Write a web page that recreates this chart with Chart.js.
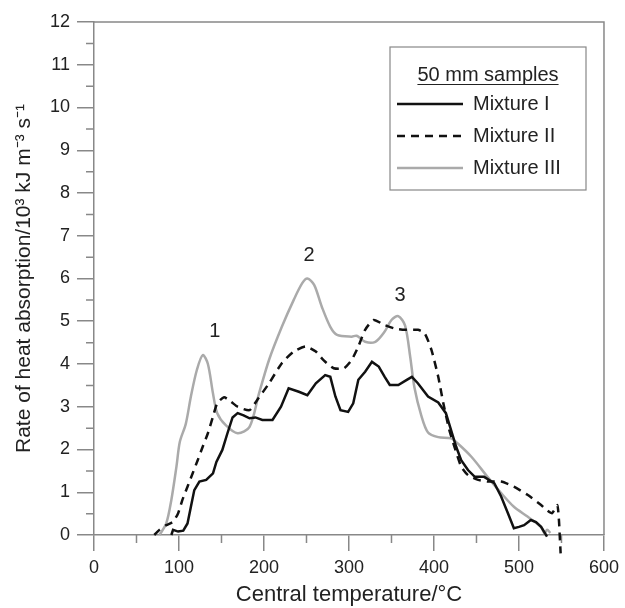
<!DOCTYPE html>
<html>
<head>
<meta charset="utf-8">
<script src="https://cdn.jsdelivr.net/npm/chart.js@4.4.1/dist/chart.umd.min.js"></script>
<style>
  body { margin: 0; background: #fff; }
  canvas { display: block; }
</style>
</head>
<body>
<canvas id="chart" width="625" height="608"></canvas>
<script>
// Mixture I (solid black)
const mix1X = [91, 93, 99, 105, 110, 114, 118, 124, 132, 140, 144, 151, 157, 163, 169, 176, 183, 190, 198, 210, 220, 229, 241, 251, 261, 272, 278, 284, 290, 299, 305, 311, 319, 327, 335, 342, 348, 358, 368, 374, 381, 393, 405, 414, 420, 426, 432, 440, 448, 459, 471, 479, 487, 494, 500, 506, 514, 520, 526, 533];
const mix1Y = [0, 0.12, 0.08, 0.1, 0.27, 0.66, 1.05, 1.25, 1.29, 1.44, 1.71, 1.99, 2.38, 2.75, 2.85, 2.8, 2.73, 2.75, 2.69, 2.69, 3.0, 3.43, 3.35, 3.27, 3.55, 3.74, 3.7, 3.24, 2.92, 2.88, 3.08, 3.63, 3.82, 4.05, 3.94, 3.7, 3.51, 3.51, 3.63, 3.7, 3.55, 3.24, 3.1, 2.85, 2.46, 2.07, 1.75, 1.52, 1.36, 1.36, 1.21, 0.9, 0.51, 0.16, 0.19, 0.23, 0.35, 0.3, 0.19, -0.04];

// Mixture II (dashed black)
const mix2X = [71, 77, 85, 93, 99, 104, 110, 116, 122, 128, 134, 140, 145, 153, 161, 169, 183, 192, 206, 221, 235, 249, 261, 270, 282, 294, 303, 311, 319, 329, 342, 354, 366, 381, 389, 397, 405, 411, 418, 424, 432, 440, 452, 463, 479, 494, 510, 526, 533, 539, 545, 547, 548, 549];
const mix2Y = [0, 0.12, 0.23, 0.31, 0.51, 0.82, 1.13, 1.44, 1.75, 2.07, 2.38, 2.77, 3.08, 3.22, 3.12, 3.0, 2.92, 3.16, 3.55, 4.02, 4.29, 4.41, 4.29, 4.09, 3.9, 3.9, 4.09, 4.41, 4.8, 5.03, 4.91, 4.83, 4.8, 4.8, 4.72, 4.33, 3.7, 3.08, 2.46, 2.07, 1.6, 1.4, 1.29, 1.25, 1.25, 1.13, 0.94, 0.7, 0.58, 0.51, 0.7, 0.35, -0.04, -0.43];

// Mixture III (grey)
const mix3X = [77, 85, 91, 97, 101, 108, 114, 121, 128, 134, 140, 145, 155, 169, 183, 194, 206, 221, 235, 245, 251, 259, 268, 278, 286, 303, 309, 319, 331, 342, 350, 358, 366, 372, 377, 385, 393, 405, 420, 428, 444, 463, 479, 494, 510, 526, 530, 533, 537];
const mix3Y = [0, 0.27, 0.82, 1.6, 2.18, 2.6, 3.24, 3.86, 4.21, 4.0, 3.31, 2.85, 2.57, 2.38, 2.53, 3.3, 4.1, 4.87, 5.5, 5.89, 6.0, 5.85, 5.34, 4.87, 4.68, 4.64, 4.66, 4.52, 4.52, 4.76, 5.03, 5.12, 4.9, 4.17, 3.45, 2.8, 2.4, 2.29, 2.26, 2.14, 1.83, 1.36, 0.98, 0.66, 0.43, 0.19, 0.04, 0.12, 0.05];

// Axis ticks
const xTicks = [0, 100, 200, 300, 400, 500, 600];
const xMinor = [50, 150, 250, 350, 450, 550];
const yTicks = [0, 1, 2, 3, 4, 5, 6, 7, 8, 9, 10, 11, 12];
const yMinor = [0.5, 1.5, 2.5, 3.5, 4.5, 5.5, 6.5, 7.5, 8.5, 9.5, 10.5, 11.5];

// Peak labels
const peakNames = ['1', '2', '3'];
const peakX = [142, 253, 360];
const peakY = [4.77, 6.55, 5.61];

const FONT = "'Liberation Sans', Arial, sans-serif";
const AXIS = '#888';
const pts = (xs, ys) => xs.map((x, i) => ({ x: x, y: ys[i] }));

// frame, minor ticks, peak numbers
const decorPlugin = {
    id: 'decor',
    beforeDatasetsDraw(chart) {
        const { ctx, chartArea: a, scales: { x, y } } = chart;
        ctx.save();
        ctx.strokeStyle = AXIS;
        ctx.lineWidth = 1.5;
        ctx.beginPath();
        ctx.moveTo(a.left, a.top); ctx.lineTo(a.right, a.top); ctx.lineTo(a.right, a.bottom);
        yMinor.forEach(v => { const p = y.getPixelForValue(v); ctx.moveTo(a.left - 8, p); ctx.lineTo(a.left, p); });
        xMinor.forEach(v => { const p = x.getPixelForValue(v); ctx.moveTo(p, a.bottom); ctx.lineTo(p, a.bottom + 8); });
        ctx.stroke();
        ctx.restore();
    },
    afterDatasetsDraw(chart) {
        const { ctx, scales: { x, y } } = chart;
        ctx.save();
        ctx.fillStyle = '#222';
        ctx.font = '20px ' + FONT;
        ctx.textAlign = 'center';
        ctx.textBaseline = 'middle';
        peakNames.forEach((t, i) => ctx.fillText(t, x.getPixelForValue(peakX[i]), y.getPixelForValue(peakY[i])));
        ctx.restore();
    }
};

// boxed legend with underlined heading
const boxLegend = {
    id: 'boxLegend',
    afterDraw(chart) {
        const ctx = chart.ctx;
        const box = { left: 390, top: 47, right: 586, bottom: 190 };
        ctx.save();
        ctx.fillStyle = '#fff';
        ctx.fillRect(box.left, box.top, box.right - box.left, box.bottom - box.top);
        ctx.strokeStyle = AXIS;
        ctx.lineWidth = 1.2;
        ctx.strokeRect(box.left, box.top, box.right - box.left, box.bottom - box.top);

        ctx.fillStyle = '#222';
        ctx.font = '20px ' + FONT;
        ctx.textBaseline = 'middle';
        ctx.textAlign = 'center';
        const head = '50 mm samples';
        const cx = (box.left + box.right) / 2;
        ctx.fillText(head, cx, 75);
        const w = ctx.measureText(head).width;
        ctx.strokeStyle = '#222';
        ctx.lineWidth = 1;
        ctx.beginPath(); ctx.moveTo(cx - w / 2, 84.5); ctx.lineTo(cx + w / 2, 84.5); ctx.stroke();

        ctx.textAlign = 'left';
        chart.data.datasets.forEach((ds, i) => {
            const yy = 104 + i * 32;
            ctx.strokeStyle = ds.borderColor;
            ctx.lineWidth = ds.borderWidth;
            ctx.setLineDash(ds.borderDash || []);
            ctx.beginPath(); ctx.moveTo(397, yy); ctx.lineTo(463, yy); ctx.stroke();
            ctx.setLineDash([]);
            ctx.fillStyle = '#222';
            ctx.fillText(ds.label, 473, yy);
        });
        ctx.restore();
    }
};

new Chart(document.getElementById('chart'), {
    type: 'line',
    data: {
        datasets: [
            { label: 'Mixture I', data: pts(mix1X, mix1Y), borderColor: '#111', borderWidth: 2.5, tension: 0, clip: false },
            { label: 'Mixture II', data: pts(mix2X, mix2Y), borderColor: '#111', borderWidth: 2.5, borderDash: [8, 6], tension: 0.2, clip: false },
            { label: 'Mixture III', data: pts(mix3X, mix3Y), borderColor: '#aaa', borderWidth: 2.5, tension: 0.3, clip: false }
        ]
    },
    options: {
        responsive: false,
        animation: false,
        devicePixelRatio: 1,
        layout: { padding: { top: 22, right: 18, left: 0, bottom: 0 } },
        elements: { point: { radius: 0 } },
        plugins: { legend: { display: false }, tooltip: { enabled: false } },
        scales: {
            x: {
                type: 'linear', min: 0, max: 600,
                afterBuildTicks: s => { s.ticks = xTicks.map(v => ({ value: v })); },
                afterFit: s => { s.height = 73; },
                ticks: { font: { family: FONT, size: 18 }, color: '#222', padding: 6, maxRotation: 0 },
                grid: { drawOnChartArea: false, tickLength: 16, color: AXIS, lineWidth: 1.5 },
                border: { color: AXIS, width: 1.5 },
                title: { display: true, text: 'Central temperature/°C', font: { family: FONT, size: 22 }, color: '#222', padding: { top: 0, bottom: 0 } }
            },
            y: {
                min: 0, max: 12,
                afterBuildTicks: s => { s.ticks = yTicks.map(v => ({ value: v })); },
                afterFit: s => { s.width = 94; },
                ticks: { font: { family: FONT, size: 18 }, color: '#222', padding: 7 },
                grid: { drawOnChartArea: false, tickLength: 17, color: AXIS, lineWidth: 1.5 },
                border: { color: AXIS, width: 1.5 },
                title: { display: true, text: 'Rate of heat absorption/10³ kJ m⁻³ s⁻¹', font: { family: FONT, size: 21 }, color: '#222', padding: { top: 12, bottom: 0 } }
            }
        }
    },
    plugins: [decorPlugin, boxLegend]
});
</script>
</body>
</html>
